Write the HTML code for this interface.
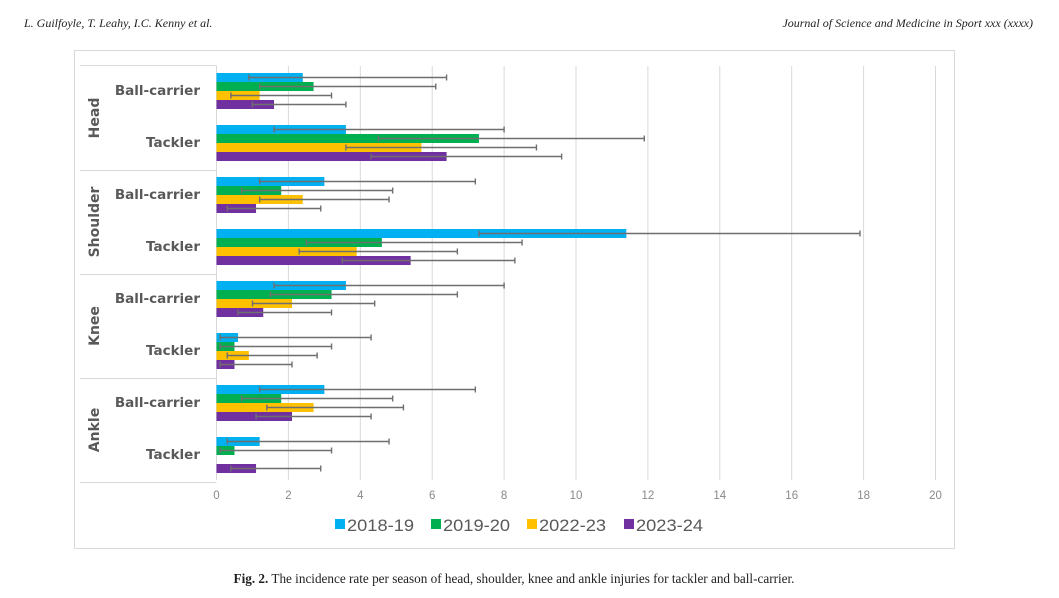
<!DOCTYPE html>
<html><head><meta charset="utf-8"><style>
body{margin:0;width:1059px;height:598px;background:#fff;overflow:hidden}
svg{display:block}
</style></head><body>
<svg width="1059" height="598" xmlns="http://www.w3.org/2000/svg">
<text x="24" y="27" font-family="Liberation Serif, serif" font-style="italic" font-size="12" fill="#222">L. Guilfoyle, T. Leahy, I.C. Kenny et al.</text>
<text x="1033" y="27" text-anchor="end" font-family="Liberation Serif, serif" font-style="italic" font-size="12" fill="#222">Journal of Science and Medicine in Sport xxx (xxxx)</text>
<rect x="74.5" y="50.5" width="880" height="498" fill="#fff" stroke="#d9d9d9"/>
<g id="grid"></g>
<g id="axisbox"></g>
<g id="bars"></g>
<g id="ticks"></g>
<g id="legend"></g>
<text x="514" y="583" text-anchor="middle" font-family="Liberation Serif, serif" font-size="13.2" fill="#222"><tspan font-weight="bold">Fig. 2.</tspan> The incidence rate per season of head, shoulder, knee and ankle injuries for tackler and ball-carrier.</text>
</svg>
<script>
const groups=["Head","Shoulder","Knee","Ankle"];
const roles=["Ball-carrier","Tackler"];
const seasons=["2018-19","2019-20","2022-23","2023-24"];
const colors=["#00b0f0","#00b050","#ffc000","#7030a0"];
// rows: Head BC, Head T, Shoulder BC, Shoulder T, Knee BC, Knee T, Ankle BC, Ankle T
const s2018=[2.4,3.6,3.0,11.4,3.6,0.6,3.0,1.2];
const s2018lo=[0.9,1.6,1.2,7.3,1.6,0.1,1.2,0.3];
const s2018hi=[6.4,8.0,7.2,17.9,8.0,4.3,7.2,4.8];
const s2019=[2.7,7.3,1.8,4.6,3.2,0.5,1.8,0.5];
const s2019lo=[1.2,4.5,0.7,2.5,1.5,0.1,0.7,0.1];
const s2019hi=[6.1,11.9,4.9,8.5,6.7,3.2,4.9,3.2];
const s2022=[1.2,5.7,2.4,3.9,2.1,0.9,2.7,0];
const s2022lo=[0.4,3.6,1.2,2.3,1.0,0.3,1.4,null];
const s2022hi=[3.2,8.9,4.8,6.7,4.4,2.8,5.2,null];
const s2023=[1.6,6.4,1.1,5.4,1.3,0.5,2.1,1.1];
const s2023lo=[1.0,4.3,0.3,3.5,0.6,0.1,1.1,0.4];
const s2023hi=[3.6,9.6,2.9,8.3,3.2,2.1,4.3,2.9];
const ticks=[0,2,4,6,8,10,12,14,16,18,20];
const NS="http://www.w3.org/2000/svg";
const X0=216.5,PX=35.95,TOP=66,SLOT=52;
const xs=v=>X0+v*PX;
function mk(t,a,p){const e=document.createElementNS(NS,t);for(const k in a)e.setAttribute(k,a[k]);p.appendChild(e);return e;}
const grid=document.getElementById('grid'),tk=document.getElementById('ticks');
ticks.forEach(t=>{
 if(t>0){const l=mk('line',{x1:xs(t),x2:xs(t),y1:TOP,y2:480,stroke:'#d9d9d9','stroke-width':1},grid);
 
 }
 const tx=mk('text',{x:xs(t),y:499,'text-anchor':'middle','font-family':'Liberation Sans, sans-serif','font-size':11.5,fill:'#888'},tk);
 tx.textContent=t;
 
 
});
const ax=document.getElementById('axisbox');
mk('line',{x1:216.5,x2:216.5,y1:TOP,y2:480,stroke:'#d9d9d9'},ax);
mk('line',{x1:80,x2:216.5,y1:65.5,y2:65.5,stroke:'#d9d9d9'},ax);
groups.forEach((g,gi)=>{
 const y0=TOP+gi*2*SLOT;
 mk('line',{x1:80,x2:216.5,y1:y0+2*SLOT+0.5,y2:y0+2*SLOT+0.5,stroke:'#d9d9d9'},ax);
 const cy=y0+SLOT;
 const gt=mk('text',{x:0,y:0,transform:`translate(99,${cy}) rotate(-90)`,'text-anchor':'middle','font-family':'DejaVu Sans, sans-serif','font-weight':'bold','font-size':14,fill:'#595959'},ax);
 gt.textContent=g;
 
 
 roles.forEach((r,ri)=>{
  const rt=mk('text',{x:200,y:y0+ri*SLOT+29,'text-anchor':'end','font-family':'DejaVu Sans, sans-serif','font-weight':'bold','font-size':13.5,fill:'#595959'},ax);
  rt.textContent=r;
  
  
 });
});
const series=[[s2018,s2018lo,s2018hi],[s2019,s2019lo,s2019hi],[s2022,s2022lo,s2022hi],[s2023,s2023lo,s2023hi]];
const bars=document.getElementById('bars');
for(let row=0;row<8;row++){
 series.forEach((s,si)=>{
  const y=TOP+row*SLOT+7+si*9;
  const v=s[0][row];
  if(v>0){const b=mk('rect',{x:X0,y:y,width:xs(v)-X0,height:9,fill:colors[si]},bars);
  
  }
  if(s[1][row]!=null){
   const cy=y+4.5,g=mk('g',{stroke:'#6f6f6f','stroke-width':1.4},bars);
   
   
   mk('line',{x1:xs(s[1][row]),x2:xs(s[2][row]),y1:cy,y2:cy},g);
   mk('line',{x1:xs(s[1][row]),x2:xs(s[1][row]),y1:cy-3,y2:cy+3},g);
   mk('line',{x1:xs(s[2][row]),x2:xs(s[2][row]),y1:cy-3,y2:cy+3},g);
  }
 });
}
const lg=document.getElementById('legend');
const lx=[335,431,527,624];
seasons.forEach((s,i)=>{
 const g=mk('g',{},lg);
 
 
 mk('rect',{x:lx[i],y:519,width:10,height:10,fill:colors[i]},g);
 const t=mk('text',{x:lx[i]+12,y:531,'font-family':'Liberation Sans, sans-serif','font-size':17,fill:'#595959'},g);
 t.setAttribute('textLength','67');
 t.setAttribute('lengthAdjust','spacingAndGlyphs');
 t.textContent=s;
});
</script>
</body></html>
